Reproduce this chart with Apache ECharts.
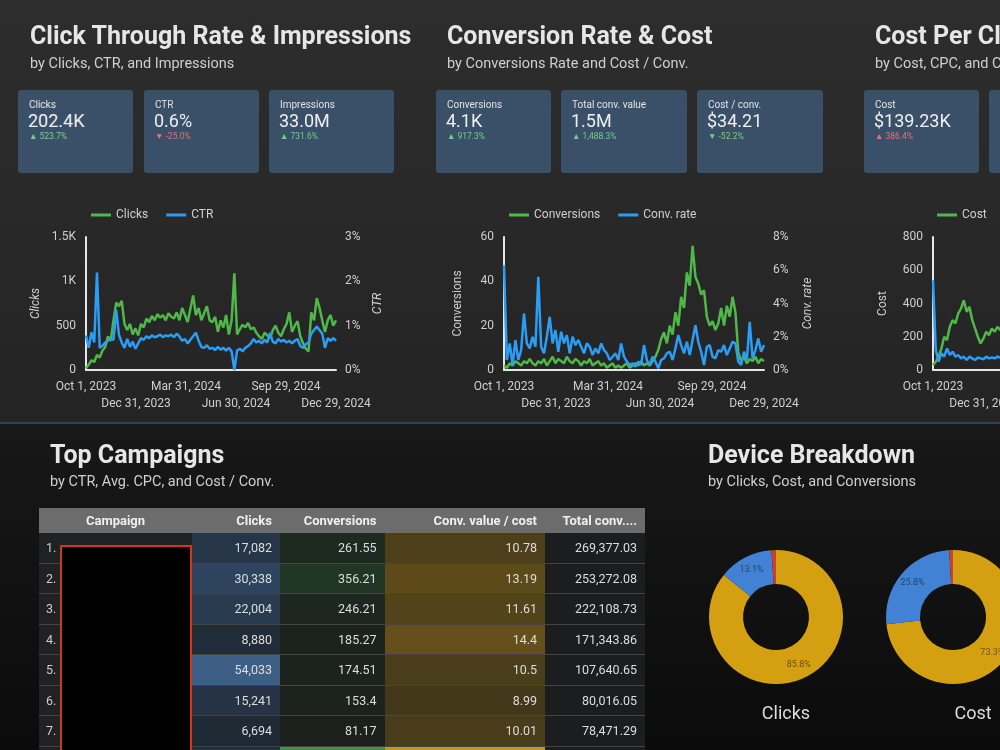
<!DOCTYPE html>
<html>
<head>
<meta charset="utf-8">
<script src="https://cdn.jsdelivr.net/npm/echarts@6/dist/echarts.min.js"></script>
<style>
  body{margin:0;width:1000px;height:750px;overflow:hidden;position:relative;font-family:Roboto,"Noto Sans",sans-serif;background:#101010;}
  #top{position:absolute;left:0;top:0;width:1000px;height:422px;background:linear-gradient(#2d2d2d,#242424);}
  #divider{position:absolute;left:0;top:422px;width:1000px;height:2px;background:#2b4257;}
  #bottom{position:absolute;left:0;top:424px;width:1000px;height:326px;background:linear-gradient(#181818,#0b0b0b);}
  #chart{position:absolute;left:0;top:0;width:1000px;height:750px;}
  .h1{position:absolute;font-size:25px;font-weight:700;color:#e6e6e6;white-space:nowrap;line-height:28px;}
  .h2{position:absolute;font-size:14.5px;color:#cfcfcf;white-space:nowrap;line-height:18px;}
  .card{position:absolute;top:90px;height:83px;background:#3a5068;border-radius:3px;overflow:hidden;}
  .card .lb{position:absolute;left:11px;top:9px;font-size:10px;color:#e2e2e2;white-space:nowrap;}
  .card .val{position:absolute;left:10px;top:20px;font-size:18px;color:#eeeeee;white-space:nowrap;}
  .card .dl{position:absolute;left:11px;top:41px;font-size:8.5px;white-space:nowrap;}
  #table{position:absolute;left:39px;top:508px;width:606px;font-size:12.5px;color:#dddddd;}
  .row{display:flex;height:30.5px;box-sizing:border-box;border-bottom:1px solid #444;}
  .row div{box-sizing:border-box;padding-right:8px;text-align:right;line-height:29.5px;white-space:nowrap;}
  .hdr{height:25px;background:#6c6c6c;border:none;font-weight:700;color:#f0f0f0;font-size:13px;}
  .hdr div{line-height:25px;}
  #redact{position:absolute;left:60px;top:545px;width:132px;height:230px;background:#000;border:2px solid #d2361f;box-sizing:border-box;}
  .cap{position:absolute;top:702px;font-size:18px;color:#dddddd;transform:translateX(-50%);white-space:nowrap;}
</style>
</head>
<body>
<div id="top"></div>
<div id="divider"></div>
<div id="bottom"></div>
<div id="chart"></div>
<div id="overlay"></div>
<script>
// time series, one value every 5 days starting Oct 1, 2023
const tickDates = ['Oct 1, 2023','Dec 31, 2023','Mar 31, 2024','Jun 30, 2024','Sep 29, 2024','Dec 29, 2024'];

const clicks = [20,60,110,90,170,140,220,260,380,330,
  560,760,720,780,520,450,520,400,470,390,
  520,480,580,540,610,560,630,590,620,560,
  640,600,580,650,560,700,620,540,690,840,
  620,700,560,640,720,560,540,600,430,560,
  480,620,400,560,1090,400,460,510,480,530,
  460,480,420,380,350,420,390,360,450,500,
  420,380,460,520,650,430,500,550,380,300,
  240,210,650,560,810,700,560,430,560,620,
  500,560];

const ctr = [0.78,0.5,0.85,0.62,2.2,0.5,0.55,0.62,0.66,0.7,
  0.68,1.35,0.8,0.62,0.5,0.7,0.52,0.64,0.48,0.6,
  0.72,0.68,0.76,0.72,0.78,0.74,0.76,0.8,0.74,0.78,
  0.76,0.8,0.74,0.82,0.76,0.66,0.7,0.6,0.68,0.76,
  0.84,0.66,0.52,0.5,0.56,0.48,0.5,0.45,0.52,0.46,
  0.5,0.44,0.5,0.42,0.0,0.44,0.48,0.42,0.5,0.54,
  0.6,0.7,0.62,0.66,0.6,0.68,0.62,0.84,0.64,0.6,
  0.7,0.64,0.68,0.62,0.66,0.6,0.66,0.7,0.54,0.5,
  0.58,0.62,0.82,0.9,0.98,0.9,0.82,0.5,0.72,0.66,
  0.72,0.66];

const conversions = [2,1,3,2,4,3,2,4,3,5,
  3,2,4,3,5,2,4,6,3,5,
  4,3,6,4,3,5,4,2,4,3,
  5,2,3,4,2,3,1,2,3,1,
  2,1,2,3,1,2,3,2,4,2,
  3,2,4,6,9,14,17,12,20,16,
  26,20,33,28,44,38,56,42,39,34,
  36,24,20,22,18,21,28,20,29,24,
  33,26,8,4,6,3,5,4,6,3,
  5,4];

const convRate = [6.3,0.6,1.6,0.3,1.8,0.6,1.2,3.4,1.6,1.3,
  2.0,1.4,5.6,1.4,1.0,2.0,3.2,1.6,2.4,1.1,
  2.3,1.6,2.1,1.0,2.0,1.5,1.8,1.4,1.0,1.6,
  1.4,0.9,1.3,1.0,1.6,1.2,1.0,0.6,0.8,1.0,
  0.6,1.6,0.8,0.5,0.3,0.4,0.2,0.5,0.3,1.5,
  0.6,0.3,0.8,0.5,0.1,0.6,0.7,1.0,1.1,0.6,
  1.3,2.1,1.5,1.0,1.7,0.9,1.8,2.7,1.7,1.1,
  0.3,1.4,1.5,0.8,0.7,1.2,1.1,1.5,0.9,1.3,
  1.7,1.6,0.5,0.3,1.1,0.6,2.9,0.7,1.2,1.9,
  1.1,1.5];

// only the first weeks of the third chart are on screen
const cost = [30,50,80,130,200,180,260,300,280,340,370,420,350,380,300,250,200,160,190,230,210,250,230,260,240,270];
const cpc = [5.4,1.2,0.5,1.0,0.8,1.3,0.9,1.1,0.8,0.9,0.7,0.8,0.6,0.8,0.7,0.6,0.75,0.7,0.65,0.8,0.7,0.75,0.7,0.8,0.75,0.8];

// scorecards
const cardLabels = ['Clicks','CTR','Impressions','Conversions','Total conv. value','Cost / conv.','Cost','Avg. CPC'];
const cardValues = ['202.4K','0.6%','33.0M','4.1K','1.5M','$34.21','$139.23K','$0.69'];
const cardDeltas = ['523.7%','-25.0%','731.6%','917.3%','1,488.3%','-52.2%','386.4%','-22.0%'];
const cardUp = [true,false,true,true,true,false,true,false];
const cardGood = [true,false,true,true,true,true,false,true];

// top campaigns table
const campaignClicks = [17082,30338,22004,8880,54033,15241,6694,9850];
const campaignConversions = [261.55,356.21,246.21,185.27,174.51,153.4,81.17,610];
const campaignValueCost = [10.78,13.19,11.61,14.4,10.5,8.99,10.01,24.6];
const campaignTotalConv = [269377.03,253272.08,222108.73,171343.86,107640.65,80016.05,78471.29,75210.4];

// device donuts
const deviceNames = ['Mobile phones','Computers','Tablets'];
const deviceClicks = [85.8,13.1,1.1];
const deviceCost = [73.3,25.8,0.9];

const green = '#4fb848', blue = '#2a9df4';
const labelColor = '#cfcfcf', lineColor = '#e6e6e6';
const deviceColors = ['#d59f12','#4282d4','#c9432c'];

// ---------- html parts ----------
const overlay = document.getElementById('overlay');
let html = '';
const heads = [
  [30,'Click Through Rate &amp; Impressions','by Clicks, CTR, and Impressions',22,55],
  [447,'Conversion Rate &amp; Cost','by Conversions Rate and Cost / Conv.',22,55],
  [875,'Cost Per Click','by Cost, CPC, and Cost / Conv.',22,55],
  [50,'Top Campaigns','by CTR, Avg. CPC, and Cost / Conv.',441,473],
  [708,'Device Breakdown','by Clicks, Cost, and Conversions',441,473]
];
heads.forEach(h=>{
  html += `<div class="h1" style="left:${h[0]}px;top:${h[3]}px">${h[1]}</div>`;
  html += `<div class="h2" style="left:${h[0]}px;top:${h[4]}px">${h[2]}</div>`;
});
const cardBox = [[18,115],[144,115],[269,125],[436,115],[561,126],[697,126],[864,115],[989,120]];
cardLabels.forEach((lb,i)=>{
  const col = cardGood[i] ? '#74cf83' : '#e8707a';
  html += `<div class="card" style="left:${cardBox[i][0]}px;width:${cardBox[i][1]}px">
    <div class="lb">${lb}</div><div class="val">${cardValues[i]}</div>
    <div class="dl" style="color:${col}">${cardUp[i]?'▲':'▼'} ${cardDeltas[i]}</div></div>`;
});

function mix(a,b,t){
  const pa=[1,3,5].map(k=>parseInt(a.substr(k,2),16)), pb=[1,3,5].map(k=>parseInt(b.substr(k,2),16));
  return 'rgb('+pa.map((v,k)=>Math.round(v+(pb[k]-v)*t)).join(',')+')';
}
const maxClicks = Math.max(...campaignClicks), maxConv = Math.max(...campaignConversions), maxVC = Math.max(...campaignValueCost);
const colW = [21,132,88,104.5,160.5,100];
html += `<div id="table"><div class="row hdr">
  <div style="width:${colW[0]+colW[1]}px;text-align:center;padding:0">Campaign</div>
  <div style="width:${colW[2]}px">Clicks</div>
  <div style="width:${colW[3]}px">Conversions</div>
  <div style="width:${colW[4]}px">Conv. value / cost</div>
  <div style="width:${colW[5]}px">Total conv....</div></div>`;
campaignClicks.forEach((c,i)=>{
  const bc = mix('#1b222a','#3d5f86',c/maxClicks);
  const gc = mix('#1b201c','#3f8f4d',Math.pow(campaignConversions[i]/maxConv,3));
  const yc = mix('#2a2618','#c49520',Math.pow(campaignValueCost[i]/maxVC,1.8));
  html += `<div class="row">
    <div style="width:${colW[0]}px;background:#1f2123;padding:0 0 0 7px;text-align:left;color:#cccccc">${i+1}.</div>
    <div style="width:${colW[1]}px;background:#1f2123"></div>
    <div style="width:${colW[2]}px;background:${bc}">${c.toLocaleString('en-US')}</div>
    <div style="width:${colW[3]}px;background:${gc}">${campaignConversions[i]}</div>
    <div style="width:${colW[4]}px;background:${yc}">${campaignValueCost[i]}</div>
    <div style="width:${colW[5]}px;background:#1c1d1e">${campaignTotalConv[i].toLocaleString('en-US',{minimumFractionDigits:2,maximumFractionDigits:2})}</div></div>`;
});
html += `</div><div id="redact"></div>`;
html += `<div class="cap" style="left:786px">Clicks</div><div class="cap" style="left:973px">Cost</div>`;
overlay.innerHTML = html;

// ---------- charts ----------
const pairs = arr => arr.map((v,i)=>[i*5, v]);
const grids = [
  {left:86, top:237, width:250, height:133, outerBoundsMode:'none', containLabel:false},
  {left:504, top:237, width:260, height:133, outerBoundsMode:'none', containLabel:false},
  {left:933, top:237, width:255, height:133, outerBoundsMode:'none', containLabel:false}
];
// two x axes per grid: the first carries the line and the upper row of dates,
// the second only the staggered lower row
function xAxis(g,row){
  return {type:'value', gridIndex:g, position:'bottom', min:0, max:455, interval:91,
    axisLine:{show:row===0, onZero:false, lineStyle:{color:lineColor, width:2}},
    axisTick:{show:false}, splitLine:{show:false},
    axisLabel:{color:labelColor, fontSize:12, margin:row ? 28 : 11,
      showMinLabel:true, showMaxLabel:true, hideOverlap:false,
      formatter:v=>{const k=Math.round(v/91); return k%2===row ? tickDates[k] : '';}}};
}
function yLeft(g,max,step,name,gap,italic,fmt){
  return {type:'value', gridIndex:g, min:0, max:max, interval:step, name:name,
    nameLocation:'middle', nameGap:gap,
    nameTextStyle:{color:labelColor, fontSize:12, fontStyle:italic?'italic':'normal'},
    axisLine:{show:true, lineStyle:{color:lineColor, width:2}},
    axisTick:{show:false}, splitLine:{show:false},
    axisLabel:{color:labelColor, fontSize:12, margin:10, showMinLabel:true, showMaxLabel:true, formatter:fmt}};
}
function yRight(g,max,step,name,gap,italic){
  return {type:'value', gridIndex:g, position:'right', min:0, max:max, interval:step, name:name,
    nameLocation:'middle', nameGap:gap,
    nameTextStyle:{color:labelColor, fontSize:12, fontStyle:italic?'italic':'normal'},
    axisLine:{show:false}, axisTick:{show:false}, splitLine:{show:false},
    axisLabel:{color:labelColor, fontSize:12, margin:9, showMinLabel:true, showMaxLabel:true, formatter:'{value}%'}};
}
function line(name,data,g,yi,color){
  return {type:'line', name:name, xAxisIndex:g*2, yAxisIndex:yi, data:pairs(data),
    showSymbol:false, symbol:'none', lineStyle:{width:2.5, color:color}, itemStyle:{color:color}};
}
function legend(left,names){
  return {left:left, top:204, width:400, data:names, icon:'rect', itemWidth:20, itemHeight:3, itemGap:18,
    textStyle:{color:labelColor, fontSize:12}};
}
function donut(cx,values){
  return {type:'pie', center:[cx,617], radius:[33,67], startAngle:90, clockwise:true,
    percentPrecision:1, minShowLabelAngle:10, silent:true,
    label:{show:true, position:'inside', formatter:'{d}%', color:'rgba(0,0,0,0.5)', fontSize:9},
    labelLine:{show:false},
    data:deviceNames.map((n,i)=>({name:n, value:values[i], itemStyle:{color:deviceColors[i]}}))};
}

const chart = echarts.init(document.getElementById('chart'));
chart.setOption({
  backgroundColor:'transparent',
  animation:false,
  textStyle:{fontFamily:'Roboto'},
  grid:grids,
  legend:[legend(86,['Clicks','CTR']), legend(504,['Conversions','Conv. rate']), legend(932,['Cost','Avg. CPC'])],
  xAxis:[xAxis(0,0), xAxis(0,1), xAxis(1,0), xAxis(1,1), xAxis(2,0), xAxis(2,1)],
  yAxis:[
    yLeft(0,1500,500,'Clicks',44,true,v=>v>=1000 ? (v/1000)+'K' : v),
    yRight(0,3,1,'CTR',36,true),
    yLeft(1,60,20,'Conversions',40,false,v=>v),
    yRight(1,8,2,'Conv. rate',38,true),
    yLeft(2,800,200,'Cost',44,false,v=>v),
    yRight(2,8,2,'Avg. CPC',36,false)
  ],
  series:[
    line('Clicks',clicks,0,0,green),
    line('CTR',ctr,0,1,blue),
    line('Conversions',conversions,1,2,green),
    line('Conv. rate',convRate,1,3,blue),
    line('Cost',cost,2,4,green),
    line('Avg. CPC',cpc,2,5,blue),
    donut(776,deviceClicks),
    donut(953,deviceCost)
  ]
});
</script>
</body>
</html>
